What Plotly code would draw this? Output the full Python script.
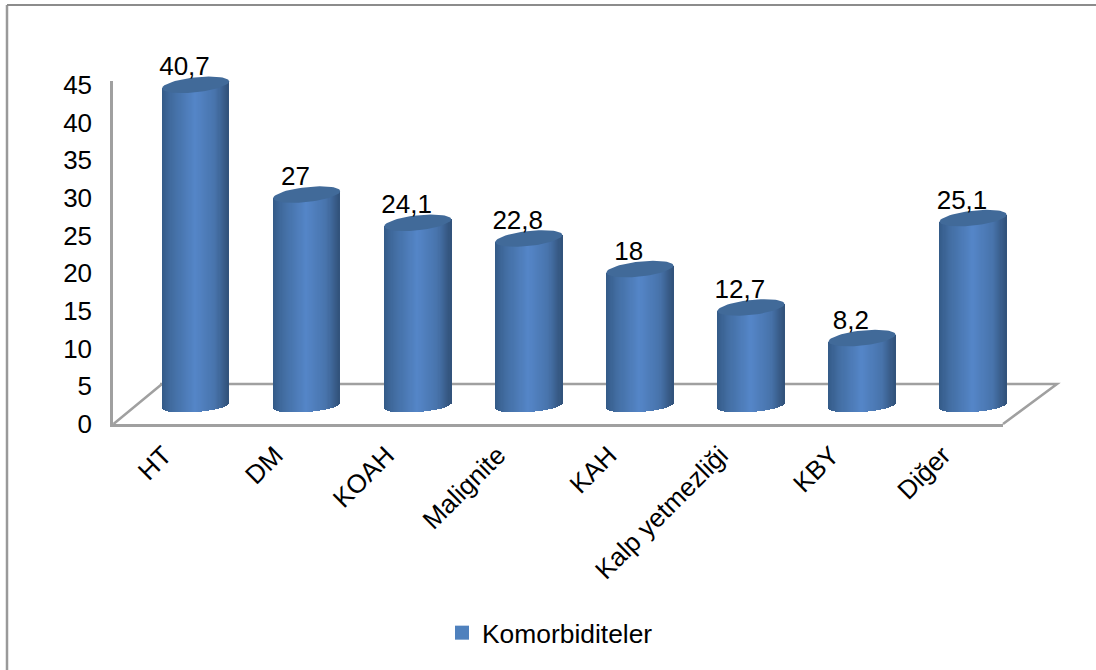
import numpy as np
import plotly.graph_objects as go

categories = ["HT", "DM", "KOAH", "Malignite", "KAH", "Kalp yetmezliği", "KBY", "Diğer"]
# heights as drawn in the picture (they differ a little from the printed labels)
bar_values = [40.9, 26.9, 23.3, 21.3, 17.4, 12.5, 8.6, 23.9]
value_labels = ["40,7", "27", "24,1", "22,8", "18", "12,7", "8,2", "25,1"]
tick_values = [0, 5, 10, 15, 20, 25, 30, 35, 40, 45]
series_name = "Komorbiditeler"

W, H = 1096, 670
FS = 26
# cylinder look
UNIT = 7.84          # px per value on the bar scale
ZERO_PX = 405.5      # px of value 0 for the bar scale
SPACING = 111.07
SHIFT = 26 / SPACING
HALF = 33.5 / SPACING
N = 60
stops = [(0, (52, 90, 135)), (0.15, (66, 109, 161)), (0.5, (85, 134, 200)), (0.8, (72, 116, 172)), (1, (50, 82, 122))]


def strip_color(f):
    xs = [s[0] for s in stops]
    return "rgb(%d,%d,%d)" % tuple(np.interp(f, xs, [s[1][k] for s in stops]) for k in range(3))


ts = (np.arange(N) + 0.5) / N * 2 - 1
sx, sbase, sh, scol = [], [], [], []
B_BOT, T_BOT = 6.5 / UNIT, 2.5 / UNIT
B_TOP, T_TOP = 7.5 / UNIT, 3.5 / UNIT
for i, v in enumerate(bar_values):
    for t in ts:
        sx.append(i + SHIFT + t * HALF)
        b = -B_BOT * np.sqrt(1 - t * t) + T_BOT * t
        top = v + T_TOP * t
        sbase.append(b)
        sh.append(top - b)
        scol.append(strip_color((t + 1) / 2))

fig = go.Figure()
fig.add_trace(go.Bar(x=sx, y=sh, base=sbase, width=2 * HALF / N * 1.12, marker=dict(color=scol, line_width=0),
                     xaxis="x2", yaxis="y2", showlegend=False, hoverinfo="skip"))
th = np.linspace(0, 2 * np.pi, 60)
for i, v in enumerate(bar_values):
    fig.add_trace(go.Scatter(x=i + SHIFT + HALF * np.cos(th), y=v + B_TOP * np.sin(th) + T_TOP * np.cos(th),
                             mode="lines", fill="toself", fillcolor="#416a99", line=dict(width=0),
                             xaxis="x2", yaxis="y2", showlegend=False, hoverinfo="skip"))
fig.add_trace(go.Scatter(x=[i + SHIFT - 0.1 for i in range(len(bar_values))],
                         y=[v + 3 / UNIT for v in bar_values], text=value_labels,
                         mode="text", textposition="top center",
                         textfont=dict(size=FS, color="#000000", family="Liberation Sans"),
                         xaxis="x2", yaxis="y2", showlegend=False, hoverinfo="skip"))
fig.add_trace(go.Scatter(x=[None], y=[None], name=series_name, mode="markers",
                         marker=dict(color="#4f81bd", symbol="square", size=14), xaxis="x", yaxis="y"))


def X2(px):
    return (px - 169.6) / SPACING


def Y2(py):
    return (ZERO_PX - py) / UNIT


GRAY = "#a0a0a0"
floor = dict(type="path", xref="x2", yref="y2", layer="below", line=dict(color=GRAY, width=2.5),
             path="M %f %f L %f %f M %f %f L %f %f L %f %f" % (
                 X2(113.5), Y2(424), X2(162), Y2(384), X2(160), Y2(384), X2(1057), Y2(384), X2(1003), Y2(424)))

fig.update_layout(
    width=W, height=H, margin=dict(l=0, r=0, t=0, b=0),
    paper_bgcolor="#ffffff", plot_bgcolor="rgba(0,0,0,0)", barmode="overlay", bargap=0,
    font=dict(family="Liberation Sans", size=FS, color="#000000"),
    xaxis=dict(domain=[113 / W, 1003 / W], range=[-0.5, 7.5], tickmode="array",
               tickvals=[i - 0.04 for i in range(8)], ticklabelstandoff=3,
               ticktext=categories, tickangle=-45, showgrid=False, zeroline=False, automargin=False,
               showline=True, linecolor=GRAY, linewidth=2.5, ticks="", anchor="y", fixedrange=True),
    yaxis=dict(domain=[1 - 424 / H, 1 - 81 / H], range=[0, (424 - 81) / (339 / 45)], tickmode="array",
               tickvals=tick_values, showgrid=False, zeroline=False, showline=True, linecolor=GRAY, linewidth=2.5,
               ticks="", anchor="x", ticklabelstandoff=13, fixedrange=True, automargin=False),
    xaxis2=dict(domain=[0, 1], range=[X2(0), X2(W)], visible=False, anchor="y2", fixedrange=True, automargin=False),
    yaxis2=dict(domain=[0, 1], range=[Y2(H), Y2(0)], visible=False, anchor="x2", fixedrange=True, automargin=False),
    legend=dict(x=442 / W, y=1 - 633 / H, xanchor="left", yanchor="middle", orientation="h",
                font=dict(size=26.4, family="Liberation Sans"), bgcolor="rgba(0,0,0,0)"),
    shapes=[floor,
            dict(type="path", xref="paper", yref="paper", layer="below", line=dict(color="#9a9a9a", width=2.5),
                 path="M %f %f L %f %f" % (7 / W, 0, 7 / W, 1 - 5 / H)),
            dict(type="path", xref="paper", yref="paper", layer="below", line=dict(color="#8c8c8c", width=2),
                 path="M %f %f L %f %f" % (7 / W, 1 - 5 / H, 1, 1 - 5 / H))],
)
fig.write_html("out.html", config=dict(displayModeBar=False), post_script="document.body.style.margin='0';")
